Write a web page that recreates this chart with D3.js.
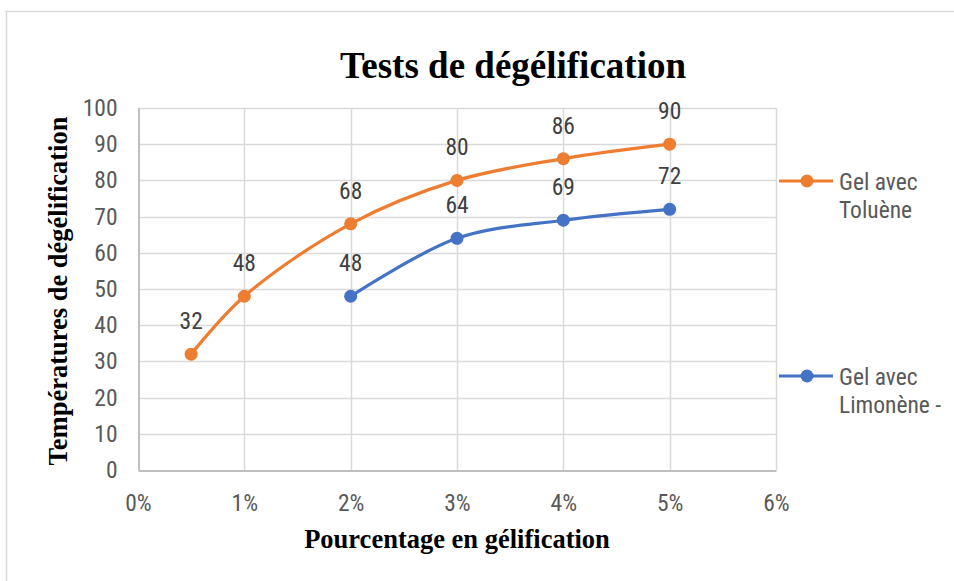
<!DOCTYPE html>
<html>
<head>
<meta charset="utf-8">
<script src="https://cdn.jsdelivr.net/npm/d3@7/dist/d3.min.js"></script>
<style>
  html, body { margin: 0; padding: 0; background: #fff; }
  svg { display: block; }
</style>
</head>
<body>
<svg id="chart" width="954" height="581"></svg>
<script>
// Gel-melting temperatures versus gelator percentage
const tolueneX = [0.005, 0.01, 0.02, 0.03, 0.04, 0.05];
const tolueneY = [32, 48, 68, 80, 86, 90];
const limoneneX = [0.02, 0.03, 0.04, 0.05];
const limoneneY = [48, 64, 69, 72];
const seriesNames = [["Gel avec", "Toluène"], ["Gel avec", "Limonène -"]];
const seriesColors = ["#ED7D31", "#4472C4"];
const xTicks = [0, 0.01, 0.02, 0.03, 0.04, 0.05, 0.06];
const yTicks = [0, 10, 20, 30, 40, 50, 60, 70, 80, 90, 100];

const svg = d3.select("#chart");
const W = 954, H = 581;
const plot = { left: 138, right: 776, top: 108, bottom: 470 };
const tickFont = "'Liberation Sans Narrow', 'Arial Narrow', 'Roboto Condensed', sans-serif";
const tickSize = "23.5px";
const serif = "'Liberation Serif', 'Times New Roman', serif";

// chart frame (top and left edges)
svg.append("line").attr("x1", 5).attr("x2", W).attr("y1", 11.5).attr("y2", 11.5)
  .attr("stroke", "#d9d9d9").attr("stroke-width", 1.5);
svg.append("line").attr("x1", 6.5).attr("x2", 6.5).attr("y1", 11).attr("y2", H)
  .attr("stroke", "#d9d9d9").attr("stroke-width", 1.5);

const x = d3.scaleLinear().domain([0, 0.06]).range([plot.left, plot.right]);
const y = d3.scaleLinear().domain([0, 100]).range([plot.bottom, plot.top]);

// gridlines
const grid = svg.append("g");
grid.selectAll(".hg").data(yTicks.slice(1)).join("line")
  .attr("x1", plot.left).attr("x2", plot.right)
  .attr("y1", d => Math.round(y(d)) + 0.5).attr("y2", d => Math.round(y(d)) + 0.5)
  .attr("stroke", "#d9d9d9").attr("stroke-width", 1.5);
grid.selectAll(".vg").data(xTicks.slice(1)).join("line")
  .attr("x1", d => Math.round(x(d)) + 0.5).attr("x2", d => Math.round(x(d)) + 0.5)
  .attr("y1", plot.top).attr("y2", plot.bottom)
  .attr("stroke", "#d9d9d9").attr("stroke-width", 1.5);

// axes
const xAxis = svg.append("g").attr("transform", `translate(0,${Math.round(y(0)) + 0.5})`)
  .call(d3.axisBottom(x).tickValues(xTicks).tickFormat(d3.format(".0%")).tickSize(0).tickPadding(24));
const yAxis = svg.append("g").attr("transform", `translate(${Math.round(x(0)) + 0.5},0)`)
  .call(d3.axisLeft(y).tickValues(yTicks).tickSize(0).tickPadding(21));
[xAxis, yAxis].forEach(a => {
  a.select(".domain").attr("stroke", "#bfbfbf").attr("stroke-width", 2);
  a.selectAll("text").attr("fill", "#595959").style("font-family", tickFont).style("font-size", tickSize);
});

// smoothed series lines with markers and value labels
const series = [
  { xs: tolueneX, ys: tolueneY, color: seriesColors[0] },
  { xs: limoneneX, ys: limoneneY, color: seriesColors[1] }
];
const line = d3.line().x(d => x(d[0])).y(d => y(d[1])).curve(d3.curveCatmullRom.alpha(0.5));
series.forEach(s => {
  const pts = s.xs.map((v, i) => [v, s.ys[i]]);
  svg.append("path").datum(pts).attr("d", line)
    .attr("fill", "none").attr("stroke", s.color).attr("stroke-width", 3.2)
    .attr("stroke-linecap", "round");
  svg.append("g").selectAll("circle").data(pts).join("circle")
    .attr("cx", d => x(d[0])).attr("cy", d => y(d[1])).attr("r", 6.5)
    .attr("fill", s.color);
  svg.append("g").selectAll("text").data(pts).join("text")
    .attr("x", d => x(d[0])).attr("y", d => y(d[1]) - 25)
    .attr("text-anchor", "middle")
    .attr("fill", "#404040").style("font-family", tickFont).style("font-size", tickSize)
    .text(d => d[1]);
});

// title and axis titles
svg.append("text").attr("x", 513).attr("y", 78).attr("text-anchor", "middle")
  .style("font-family", serif).style("font-weight", "bold").style("font-size", "37px")
  .attr("fill", "#000").text("Tests de dégélification");
svg.append("text").attr("x", 457).attr("y", 548).attr("text-anchor", "middle")
  .style("font-family", serif).style("font-weight", "bold").style("font-size", "26.5px")
  .attr("fill", "#000").text("Pourcentage en gélification");
svg.append("text").attr("transform", "translate(67,291) rotate(-90)").attr("text-anchor", "middle")
  .style("font-family", serif).style("font-weight", "bold").style("font-size", "26.5px")
  .attr("fill", "#000").text("Températures de dégélification");

// legend
const legendY = [181, 376];
series.forEach((s, i) => {
  const g = svg.append("g").attr("transform", `translate(0,${legendY[i]})`);
  g.append("line").attr("x1", 779).attr("x2", 833).attr("y1", 0).attr("y2", 0)
    .attr("stroke", s.color).attr("stroke-width", 3.2);
  g.append("circle").attr("cx", 807).attr("cy", 0).attr("r", 6.5).attr("fill", s.color);
  g.selectAll("text").data(seriesNames[i]).join("text")
    .attr("x", 839).attr("y", (d, j) => 9 + j * 28)
    .attr("fill", "#595959").style("font-family", tickFont).style("font-size", tickSize)
    .text(d => d);
});
</script>
</body>
</html>
